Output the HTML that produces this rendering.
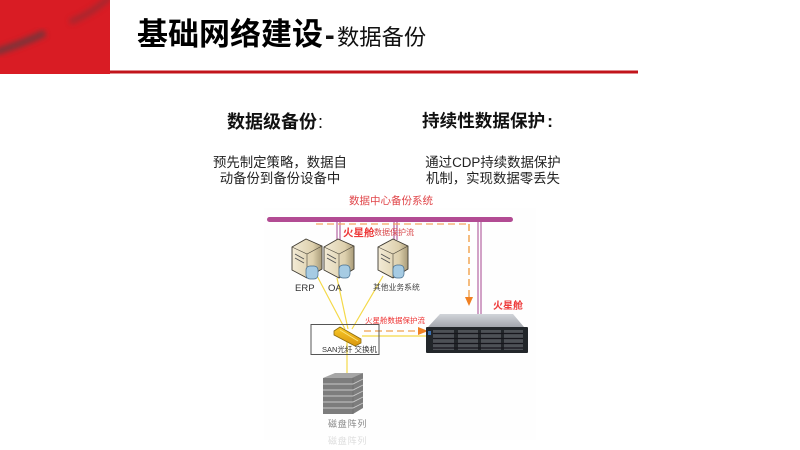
<!DOCTYPE html>
<html><head><meta charset="utf-8">
<style>
html,body{margin:0;padding:0;background:#fff}
svg{display:block}
text{font-family:"Liberation Sans","Noto Sans CJK SC",sans-serif}
</style></head>
<body>
<svg width="800" height="450" viewBox="0 0 800 450" xmlns="http://www.w3.org/2000/svg">
<defs>
<linearGradient id="sv" x1="0" y1="0" x2="1" y2="0"><stop offset="0" stop-color="#f3ebd6"/><stop offset=".7" stop-color="#ddd0ad"/><stop offset="1" stop-color="#a89a78"/></linearGradient>
<linearGradient id="sw" x1="0" y1="0" x2="0" y2="1"><stop offset="0" stop-color="#f9c927"/><stop offset="1" stop-color="#d9960e"/></linearGradient>
<linearGradient id="top" x1="0" y1="0" x2="0" y2="1"><stop offset="0" stop-color="#d2d5da"/><stop offset="1" stop-color="#a3a6ad"/></linearGradient>
<filter id="b" x="-30%" y="-30%" width="160%" height="160%"><feGaussianBlur stdDeviation="2.600"/></filter>
<filter id="s"><feGaussianBlur stdDeviation=".3"/></filter>
<clipPath id="rc"><rect width="110" height="74"/></clipPath>
</defs>

<!-- header -->
<rect width="110" height="74" fill="#d91c24"/>
<g clip-path="url(#rc)">
<path d="M-4 52 C15 46 30 40 45 33" stroke="#6b383d" stroke-width="7" fill="none" filter="url(#b)" opacity=".85"/>
<path d="M70 22 C85 16 98 8 110 -3" stroke="#8c2f35" stroke-width="6" fill="none" filter="url(#b)" opacity=".65"/>
</g>
<rect x="110" y="70.500" width="528" height="3" fill="#c2141b"/>
<text x="137" y="45" font-size="31" font-weight="700" fill="#000">基础网络建设</text>
<rect x="326" y="35.500" width="7.500" height="3.500" fill="#111"/>
<text x="337" y="45" font-size="22.300" fill="#111">数据备份</text>

<!-- headings -->
<text x="227" y="128" font-size="18" font-weight="700" fill="#111">数据级备份<tspan font-weight="400" dx="1">:</tspan></text>
<text x="422" y="127" font-size="17.600" font-weight="700" fill="#111">持续性数据保护<tspan dx="2">:</tspan></text>
<g font-size="13.400" fill="#222">
<text x="213" y="167">预先制定策略&#65292;数据自</text>
<text x="280" y="183" text-anchor="middle">动备份到备份设备中</text>
<text x="493" y="167" text-anchor="middle">通过CDP持续数据保护</text>
<text x="426" y="183">机制&#65292;实现数据零丢失</text>
</g>

<!-- diagram -->
<g filter="url(#s)">
<rect x="264" y="208" width="272" height="232" fill="#fefefe"/>
<text x="391" y="204" font-size="10.500" fill="#e04448" text-anchor="middle">数据中心备份系统</text>
<rect x="267" y="217" width="246" height="5" rx="2.500" fill="#b24c93"/>

<!-- purple verticals -->
<g stroke="#c07bb0" stroke-width="1.400" fill="none">
<path d="M337 222V240M340 222V240M394 222V240M397 222V240M478 222V314M481 222V314"/>
</g>

<!-- orange dashed -->
<g stroke="#f4a460" stroke-width="1.300" stroke-dasharray="7 4" fill="none">
<path d="M316 224H469"/>
<path d="M469 224V299" stroke="#f09a3e"/>
<path d="M364 331H418" stroke="#f0a050"/>
</g>
<path d="M465 297L473 297L469 306Z" fill="#f08020"/>
<path d="M418 327L428 331L418 335Z" fill="#f08020"/>

<text x="343" y="236" font-size="10.500" font-weight="700" fill="#ee3b3b">火星舱</text>
<text x="374" y="235" font-size="8" fill="#d8474a">数据保护流</text>
<text x="493" y="309" font-size="10" font-weight="700" fill="#ee3b3b">火星舱</text>
<text x="365" y="323" font-size="7.500" fill="#e33">火星舱数据保护流</text>

<!-- yellow links -->
<g stroke="#f4d94a" stroke-width="1.200" fill="none">
<path d="M316 274L345 329M337 278L348 329M383 276L352 329M347 342V374M362 336H428"/>
</g>

<!-- servers -->
<g>
<path d="M292 247L306 239L322 246V269L307 278L292 270Z" fill="url(#sv)" stroke="#3f3b32" stroke-width=".9"/>
<path d="M292 247L307 254L322 246M307 254V278" fill="none" stroke="#4c473b" stroke-width=".6"/>
<path d="M295 254L304 259M295 258L304 263" stroke="#555" stroke-width="1"/>
<rect x="306" y="266" width="12" height="13" rx="4" fill="#a6cbe3" stroke="#456c8c" stroke-width=".7"/>
</g>
<g>
<path d="M324 247L338 239L354 246V269L339 278L324 270Z" fill="url(#sv)" stroke="#3f3b32" stroke-width=".9"/>
<path d="M324 247L339 254L354 246M339 254V278" fill="none" stroke="#4c473b" stroke-width=".6"/>
<path d="M327 254L336 259M327 258L336 263" stroke="#555" stroke-width="1"/>
<rect x="339" y="265" width="11" height="13" rx="4" fill="#a6cbe3" stroke="#456c8c" stroke-width=".7"/>
</g>
<g>
<path d="M378 247L393 239L408 246V269L393 278L378 270Z" fill="url(#sv)" stroke="#3f3b32" stroke-width=".9"/>
<path d="M378 247L393 254L408 246M393 254V278" fill="none" stroke="#4c473b" stroke-width=".6"/>
<path d="M381 254L390 259M381 258L390 263" stroke="#555" stroke-width="1"/>
<rect x="393" y="265" width="11" height="13" rx="4" fill="#a6cbe3" stroke="#456c8c" stroke-width=".7"/>
</g>
<text x="295" y="291" font-size="9.500" fill="#333">ERP</text>
<text x="328" y="291" font-size="9.500" fill="#333">OA</text>
<text x="373" y="290" font-size="7.800" fill="#444">其他业务系统</text>

<!-- SAN switch -->
<rect x="311" y="324.500" width="68" height="30" fill="none" stroke="#555" stroke-width="1"/>
<path d="M334 331L340 327L361 339V343L355 346L334 335Z" fill="url(#sw)" stroke="#8a6a10" stroke-width=".8"/>
<path d="M340 330L358 341" stroke="#fbe47a" stroke-width="1"/>
<path d="M347 344V352" stroke="#f4d94a" stroke-width="1.200"/>
<text x="322" y="352" font-size="7.500" font-family="'Liberation Serif','Noto Serif CJK SC',serif" fill="#333">SAN光纤 交换机</text>

<!-- disk array -->
<path d="M323 378L350 378L363 373V408L353 414H323Z" fill="#7d7d7d"/>
<path d="M323 378L335 373H363L352 378Z" fill="#a6a6a6"/>
<path d="M353 378V414" stroke="#666" stroke-width=".6"/>
<g stroke="#c8c8c8" stroke-width=".9" fill="none">
<path d="M323 384H353L363 379M323 390H353L363 385M323 396H353L363 391M323 402H353L363 397M323 408H353L363 403"/>
</g>
<text x="328" y="427" font-size="9" fill="#888" letter-spacing=".8">磁盘阵列</text>
<text x="328" y="444" font-size="9" fill="#ddd" letter-spacing=".8">磁盘阵列</text>

<!-- storage -->
<path d="M440 314H513L524 327H428Z" fill="url(#top)"/>
<rect x="426" y="327" width="102" height="26" rx="1" fill="#24262a"/>
<g fill="#4e5157">
<rect x="433" y="330" width="21" height="20"/><rect x="458" y="330" width="20" height="20"/>
<rect x="481" y="330" width="20" height="20"/><rect x="504" y="330" width="19" height="20"/>
</g>
<g stroke="#16171a" stroke-width="1.300">
<path d="M433 333.500H523M433 338.500H523M433 343.500H523M433 348H523"/>
</g>
<rect x="428" y="331" width="3" height="4" fill="#3b6fb2"/>
</g>
</svg>
</body></html>
